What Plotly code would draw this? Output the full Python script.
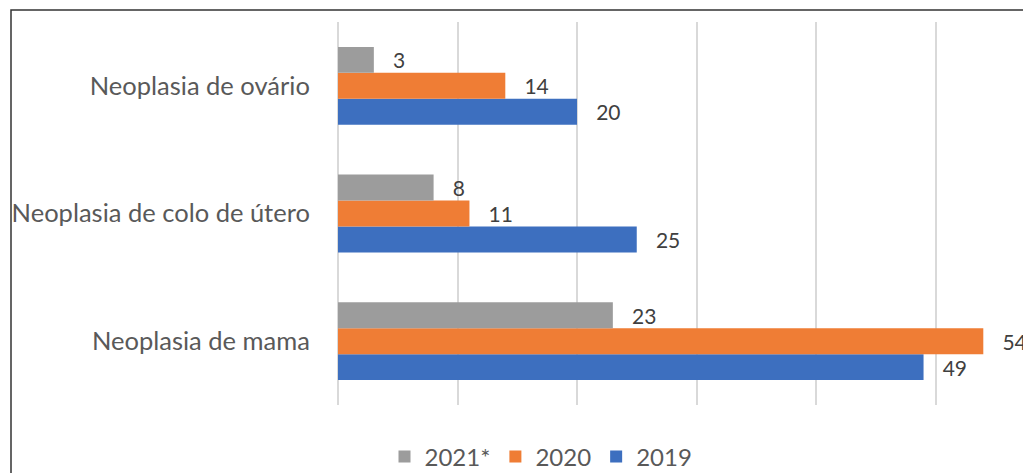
import plotly.graph_objects as go

categories = ["Neoplasia de mama", "Neoplasia de colo de útero", "Neoplasia de ovário"]
series_names = ["2019", "2020", "2021*"]
values_2019 = [49, 25, 20]
values_2020 = [54, 11, 14]
values_2021 = [23, 8, 3]
colors = {"2019": "#3d6fbf", "2020": "#ef7d35", "2021*": "#9c9c9c"}
series_values = {"2019": values_2019, "2020": values_2020, "2021*": values_2021}

W, H = 1023, 473
ML, MR, MT, MB = 338, 0, 22, 68
pw, ph = W - ML - MR, H - MT - MB

fig = go.Figure()
for name in series_names:
    vals = series_values[name]
    fig.add_trace(go.Bar(
        y=categories, x=vals, name=name, orientation="h",
        marker=dict(color=colors[name], line=dict(width=0)),
        text=vals, texttemplate="\u00a0\u00a0\u00a0%{x}", textposition="outside",
        cliponaxis=False,
        textfont=dict(family="Lato", size=21, color="#404040"),
    ))

fig.update_layout(
    width=W, height=H,
    margin=dict(l=ML, r=MR, t=MT, b=MB, autoexpand=False),
    paper_bgcolor="white", plot_bgcolor="white",
    barmode="group", bargap=0.39, bargroupgap=0,
    font=dict(family="Lato", size=21, color="#595959"),
    showlegend=True,
    legend=dict(orientation="h", traceorder="reversed",
                x=(541 - ML) / pw, xanchor="center",
                y=(MT + ph - 457) / ph, yanchor="middle",
                font=dict(family="Lato", size=24, color="#595959"),
                itemwidth=30),
    xaxis=dict(range=[0, pw / 11.95], showticklabels=False,
               showgrid=True, gridcolor="#d9d9d9", gridwidth=1.5,
               dtick=10, zeroline=True, zerolinecolor="#d9d9d9", zerolinewidth=1.5,
               showline=False, fixedrange=True),
    yaxis=dict(type="category", categoryorder="array", categoryarray=categories,
               showgrid=False, showline=False, zeroline=False,
               ticks="outside", ticklen=22, tickcolor="rgba(0,0,0,0)",
               tickfont=dict(family="Lato", size=25.5, color="#595959")),
)

# outer frame
fig.add_shape(type="rect", xref="paper", yref="paper",
              x0=(11 - ML) / pw, x1=(W + 10 - ML) / pw,
              y0=(MT + ph - (H + 10)) / ph, y1=(MT + ph - 10) / ph,
              line=dict(color="#333333", width=1.5), fillcolor="rgba(0,0,0,0)",
              layer="below")

fig.write_html("out.html")
